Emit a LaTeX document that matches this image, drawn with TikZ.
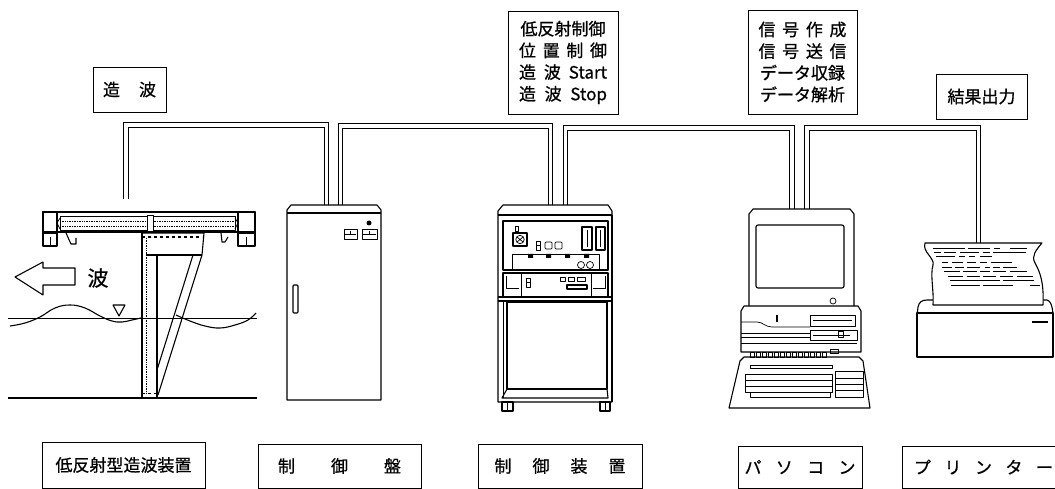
\documentclass[tikz,border=0pt]{standalone}
\usepackage{fontspec}
\newfontfamily\jp[FakeBold=0.7]{Noto Sans CJK JP}
\begin{document}
\begin{tikzpicture}[x=1pt,y=-1pt,
  outline/.style={line width=1.1pt, line join=round},
  fine/.style={line width=0.7pt, line join=round},
  cable/.style={draw, line width=1pt, double, double distance=3.8pt},
  jpfont/.style={font=\jp\fontsize{17}{21.7}\selectfont},
  lbox/.style={draw, line width=0.9pt, inner sep=0pt, jpfont},
  ltext/.style={inner sep=0pt, jpfont},
  printline/.style={line width=0.9pt},
]
\useasboundingbox (0,0) rectangle (1055,489);

% ---------- function labels (top row) ----------
\node[lbox, minimum width=73pt, minimum height=45pt] (fnWave) at (129.5,89.5)
  {\makebox[53pt]{造\hfill 波}};
\node[lbox, minimum width=110pt, minimum height=103pt, align=center] (fnCtrl) at (563,62.5)
  {\makebox[88pt]{低反射制御}\\
   \makebox[88pt]{位\hfill 置\hfill 制\hfill 御}\\
   \makebox[88pt]{造\hfill 波\hfill Start}\\
   \makebox[88pt]{造\hfill 波\hfill Stop}};
\node[lbox, minimum width=109pt, minimum height=104pt, align=center] (fnPC) at (802.5,62)
  {\makebox[88pt]{信\hfill 号\hfill 作\hfill 成}\\
   \makebox[88pt]{信\hfill 号\hfill 送\hfill 信}\\
   \makebox[88pt]{データ収録}\\
   \makebox[88pt]{データ解析}};
\node[lbox, minimum width=91pt, minimum height=45pt] (fnOut) at (981.5,96.5) {結果出力};

% ---------- device names (bottom row) ----------
\node[lbox, minimum width=163pt, minimum height=46pt] (nWave) at (123.5,465)
  {\makebox[142pt]{低反射型造波装置}};
\node[lbox, minimum width=163pt, minimum height=44pt] (nPanel) at (339.5,466)
  {\makebox[123pt]{制\hfill 御\hfill 盤}};
\node[lbox, minimum width=164pt, minimum height=44pt] (nCtrl) at (560,466)
  {\makebox[131pt]{制\hfill 御\hfill 装\hfill 置}};
\node[lbox, minimum width=124pt, minimum height=42pt] (nPC) at (800,467)
  {\makebox[111pt]{パ\hfill ソ\hfill コ\hfill ン}};
\node[ltext] (nPrn) at (983.5,467)
  {\makebox[139pt]{プ\hfill リ\hfill ン\hfill タ\hfill ー}};
\draw[line width=0.9pt] (1055,446) -- (902,446) -- (902,488) -- (1055,488);

% ---------- cable attachment points ----------
\coordinate (wgTop) at (126,199);
\coordinate (cpA) at (326.5,205);
\coordinate (cpB) at (340.5,205);
\coordinate (cuA) at (550.5,205);
\coordinate (cuB) at (565.5,205);
\coordinate (pcA) at (792,209);
\coordinate (pcB) at (807,209);
\coordinate (prTop) at (978.5,243);

\draw[cable] (wgTop) -- ++(0,-74) -| (cpA);
\draw[cable] (cpB) -- ++(0,-79) -| (cuA);
\draw[cable] (cuB) -- ++(0,-77) -| (pcA);
\draw[cable] (pcB) -- ++(0,-81) -| (prTop);

% ---------- low-reflection wave maker ----------
% carriage beam and end blocks
\draw[outline] (43,212) rectangle (255,232);
\draw[outline] (43,212) rectangle (57,246);
\draw[outline] (238,212) rectangle (255,246);
\draw[fine] (43,233) -- (57,233) (238,233) -- (255,233);
\draw[fine] (50,237) -- (50,245) (246,237) -- (246,245);
% rail with cylinder and joint
\draw[fine] (60,216.5) rectangle (235,230);
\draw[fine, densely dotted] (60,221) -- (235,221) (60,226) -- (235,226);
\draw[fine] (57,223) -- (60,218) (57,223) -- (60,229) (238,223) -- (235,218) (238,223) -- (235,229);
\draw[fine, fill=white] (147,215) rectangle (153,231);
% hangers under the beam
\draw[outline] (66,233) -- (71,244) -- (76,244) -- (76,238);
\draw[outline] (221,233) -- (222,242) -- (225,242) -- (228,237);
% paddle and brace
\draw[outline] (142,233) -- (142,397);
\draw[fine, densely dotted] (146,238) -- (146,394);
\draw[outline] (142,233) -- (204,233) -- (202,255) -- (158,395);
\draw[outline, dashed] (142,237) -- (202,237);
\draw[outline] (146,255) -- (202,255);
\draw[outline] (157,255) -- (157,397);
\draw[outline] (193,255) -- (157,370);
\draw[fine, dashed] (142,393) -- (158,393);
% channel floor and still-water level
\draw[outline] (8,398) -- (257,398);
\draw[fine] (8,318) -- (257,318);
% surface waves
\draw[outline] plot[smooth, tension=0.7] coordinates
  {(10,326) (25,323) (40,317) (55,308) (70,305) (85,308) (100,316) (112,321) (122,322) (132,320) (141,318)};
\draw[outline] plot[smooth, tension=0.7] coordinates
  {(176,315) (190,321) (205,326) (220,328) (235,325) (248,320) (256,313)};
% water-level mark
\draw[outline, fill=white] (113,305) -- (125,305) -- (119,316) -- cycle;
% direction of the generated wave
\draw[outline] (15,277) -- (43,262) -- (43,268) -- (75,268) -- (75,285) -- (43,285) -- (43,295) -- cycle;
\node[font=\jp\fontsize{21}{21}\selectfont, inner sep=0pt] (waveTxt) at (98,278) {波};

% ---------- control panel ----------
\draw[outline] (287,400) -- (287,210) -- (291,205) -- (377,205) -- (381,210) -- (381,400) -- cycle;
\draw[outline] (287,213) -- (381,213);
\fill (369,223) circle (2.5);
\draw[fine] (344,229) rectangle (357,239) (362,229) rectangle (377,239);
\draw[fine] (345,234) -- (356,234) (363,234) -- (376,234) (350,231) -- (350,234) (369,231) -- (369,234);
\draw[outline, rounded corners=1] (293,285) rectangle (298,313);

% ---------- control unit ----------
\draw[outline] (498,402) -- (498,211) -- (503,205) -- (608,205) -- (612,211) -- (612,402) -- cycle;
\draw[line width=1.8pt] (612,215) -- (612,402);
\draw[outline] (498,215) -- (612,215);
\draw[outline] (503,221) rectangle (608,270);
% instruments on the upper panel
\draw[fine] (515,226) rectangle (518,231);
\draw[outline] (513,233) rectangle (527,246);
\draw[fine] (520,239.5) circle (4.2);
\draw[fine] (517,237) -- (523,242) (517,242) -- (523,237);
\draw[fine] (536,241) rectangle (540,250) (536,245.5) -- (540,245.5);
\draw[fine, rounded corners=1] (545,242) rectangle (552,249) (555,242) rectangle (562,249);
\draw[outline] (582,227) rectangle (592,250) (596,227) rectangle (605,250);
\draw[fine] (587,230) -- (587,247) (600.5,230) -- (600.5,247);
\draw[fine] (512,254) rectangle (599,269);
\fill (528,254) rectangle (533,258) (546,254) rectangle (551,258) (565,254) rectangle (570,258) (584,254) rectangle (589,258);
\draw[fine] (581,265) circle (3.5) (590,265) circle (3.5);
% drawer section
\draw[outline] (503,273) rectangle (608,297);
\draw[fine] (521,273) -- (521,297) (591,273) -- (591,297);
\draw[fine] (506,276) -- (506,288) -- (519,288) (605,276) -- (605,288) -- (593,288);
\draw[fine] (526,278) rectangle (530,287) (526,282.5) -- (530,282.5);
\draw[fine] (560,277) rectangle (565,281) (568,277) rectangle (574,281) (577,277) rectangle (585,281);
\draw[outline] (567,285) rectangle (587,289);
\draw[outline] (498,297) -- (612,297);
\draw[outline] (498,301) -- (612,301);
% lower cabinet
\draw[fine] (503,301) -- (503,398);
\draw[outline] (507,302) rectangle (607,389);
\draw[outline] (507,389) -- (502,398) -- (608,398) -- (607,389);
\draw[outline] (502,402) rectangle (513,411) (600,402) rectangle (610,411);
\draw[fine] (507.5,402) -- (507.5,411) (605,402) -- (605,411);

% ---------- personal computer ----------
\draw[outline] (749,306) -- (749,214) -- (753,209) -- (850,209) -- (854,214) -- (854,306);
\draw[outline, rounded corners=2] (756,225) rectangle (844,288);
\draw[fine] (833,301) circle (3);
% system unit
\draw[outline] (741,352) -- (741,311) -- (744,306) -- (858,306) -- (861,311) -- (861,352) -- cycle;
\draw[fine] (741,322) -- (757,322) .. controls (763,322) and (765,327) .. (772,327) -- (810,327);
\draw[outline] (777,315) -- (777,322);
\draw[fine] (810,315) rectangle (855,326) (813,320) -- (852,320);
\draw[fine] (810,330) rectangle (857,340) (813,335) -- (850,335);
\draw[fine] (838,331) rectangle (843,337);
\draw[fine] (741,333) -- (810,333) (741,337) -- (810,337) (741,343) -- (857,343);
\foreach \k in {0,...,12} \draw[fine] (750+\k*6,352) rectangle (754+\k*6,357);
\draw[fine] (830,349) rectangle (838,353);
% keyboard
\draw[outline] (729,408) -- (740,361) -- (744,357) -- (859,357) -- (863,361) -- (870,408) -- cycle;
\draw[fine] (750,365) rectangle (832,368);
\draw[fine] (745,374) rectangle (832,392) (745,380) -- (832,380) (745,386) -- (832,386);
\draw[fine] (750,392) rectangle (830,397);
\draw[fine] (835,371) rectangle (863,397) (835,378) -- (863,378) (835,384) -- (863,384) (835,390) -- (863,390);

% ---------- printer ----------
\draw[outline] (917,357) -- (917,313) -- (1053,313) -- (1053,357) -- cycle;
\draw[outline] (917,316) -- (918,307) .. controls (919,302) and (922,300) .. (927,300) -- (933,300);
\draw[outline] (1043,300) -- (1047,300) .. controls (1051,301) and (1052,306) .. (1053,313);
\draw[line width=1.8pt] (1032,322) -- (1048,322);
% printed sheet
\draw[outline, fill=white] (925,243) -- (1042,243)
  .. controls (1036,250) and (1031,256) .. (1035,263)
  .. controls (1040,272) and (1044,282) .. (1043,305)
  -- (933,305)
  .. controls (934,290) and (930,275) .. (933,265)
  .. controls (935,258) and (922,252) .. (925,243) -- cycle;
\draw[printline] (933,248) -- (965,248) (968,248) -- (990,248) (994,248) -- (1000,248) (1010,248) -- (1027,248);
\draw[printline] (934,252) -- (941,252) (944,252) -- (956,252) (960,252) -- (979,252) (983,252) -- (990,252) (993,252) -- (1026,252);
\draw[printline] (936,256) -- (955,256) (959,256) -- (965,256) (969,256) -- (975,256) (980,256) -- (992,256);
\draw[printline] (942,262) -- (948,262) (952,262) -- (963,262) (967,262) -- (976,262) (980,262) -- (987,262) (991,262) -- (1012,262);
\draw[printline] (942,267) -- (952,267) (955,267) -- (964,267) (967,267) -- (980,267) (985,267) -- (990,267) (993,267) -- (1000,267) (1003,267) -- (1017,267);
\draw[printline] (944,271) -- (960,271) (963,271) -- (977,271) (980,271) -- (990,271) (993,271) -- (1006,271) (1010,271) -- (1027,271);
\draw[printline] (948,276) -- (963,276) (967,276) -- (980,276) (983,276) -- (996,276) (1000,276) -- (1013,276) (1017,276) -- (1033,276);
\draw[printline] (950,280) -- (1000,280) (1003,280) -- (1034,280);
\draw[line width=0.6pt] (951,285) -- (980,285) (983,285) -- (1013,285) (1030,285) -- (1040,285);
\end{tikzpicture}
\end{document}
